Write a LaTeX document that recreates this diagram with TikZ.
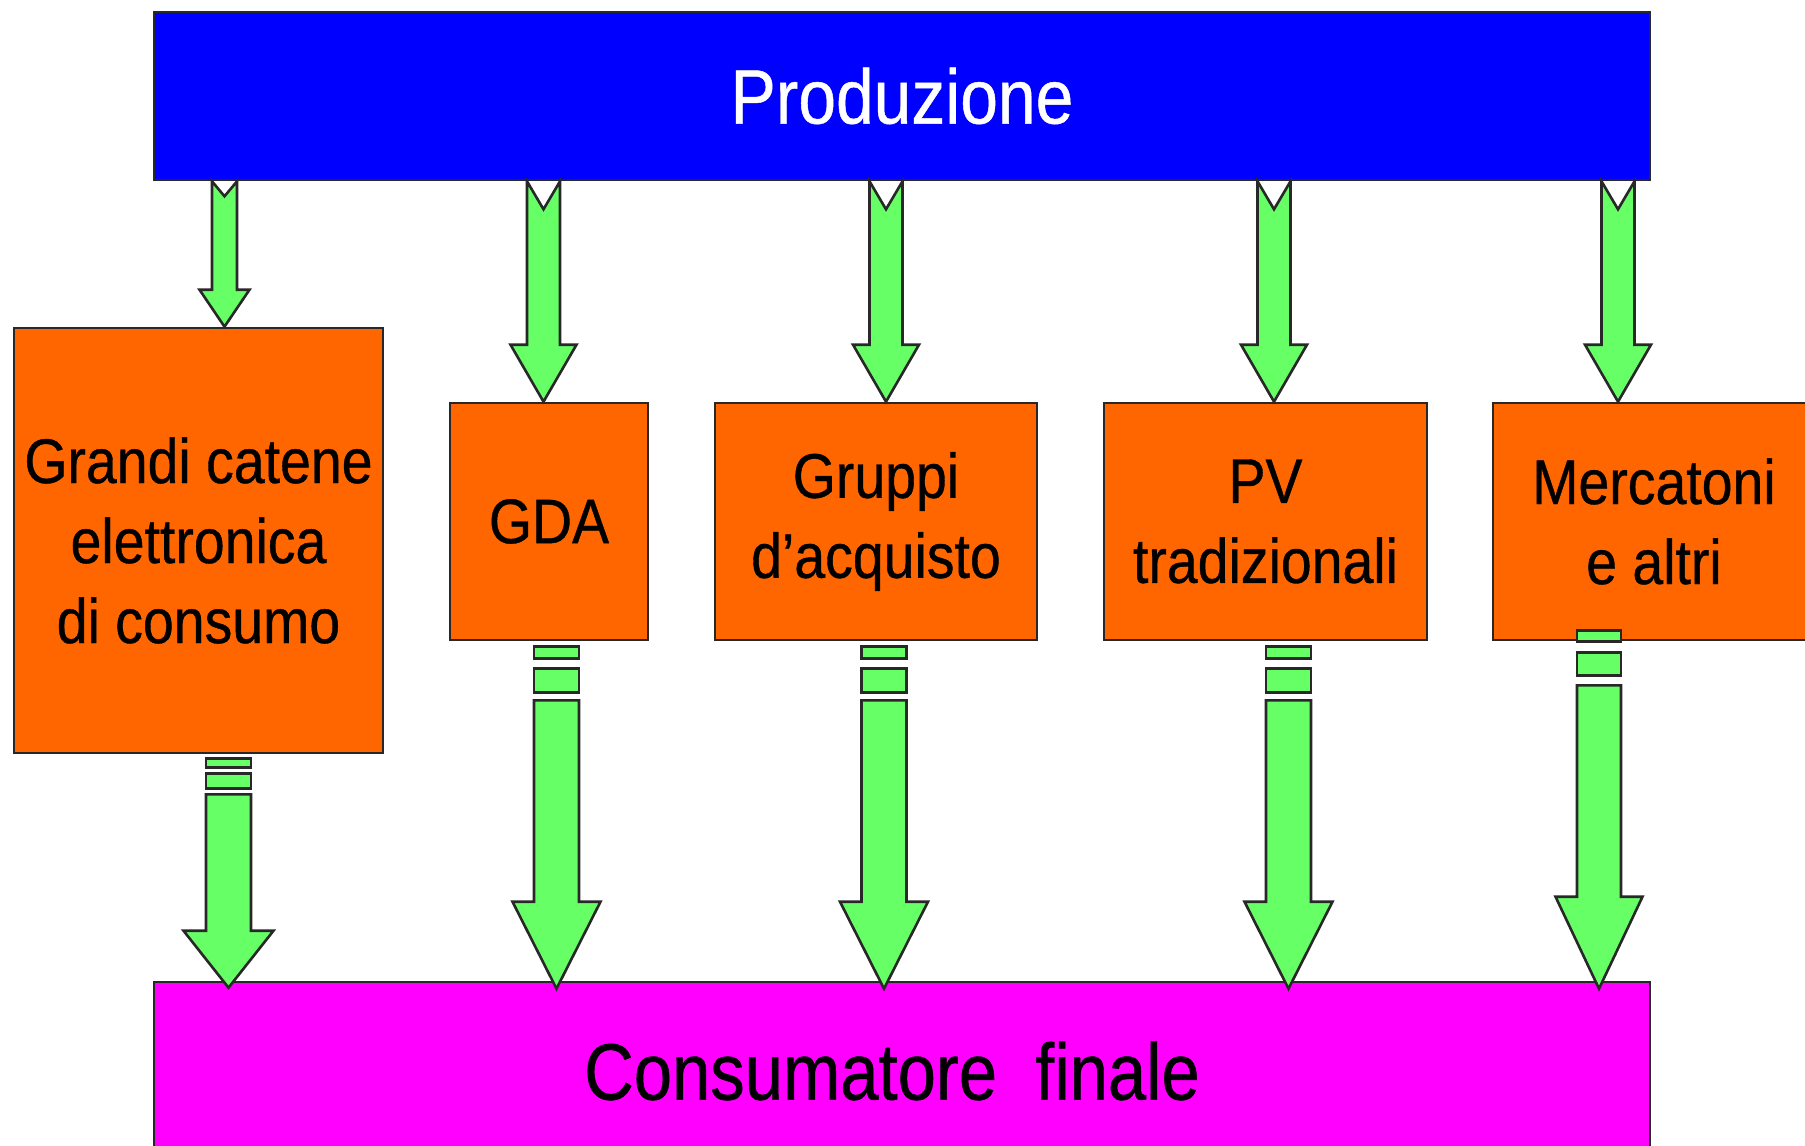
\documentclass[tikz,border=0pt]{standalone}
\usepackage{fontspec}
\setmainfont{Liberation Sans}[FakeStretch=0.88,FakeBold=0.6]
\newfontfamily\bandfont{Liberation Sans}[FakeStretch=0.86,FakeBold=0.6]
\usetikzlibrary{calc}

\definecolor{prodblue}{RGB}{0,0,255}
\definecolor{boxorange}{RGB}{255,102,0}
\definecolor{consmagenta}{RGB}{255,0,255}
\definecolor{arrowgreen}{RGB}{102,255,102}
\definecolor{edgegray}{RGB}{40,40,40}

\tikzset{
  panel/.style={draw=edgegray, line width=2.6pt, rectangle, inner sep=0pt, align=center},
  channel/.style={panel, fill=boxorange, text=black,
    font=\fontsize{63}{80}\selectfont, minimum height=237pt},
  greenarrow/.style={fill=arrowgreen, draw=edgegray, line width=2.6pt, line join=miter},
}

\begin{document}
\begin{tikzpicture}[x=1pt,y=-1pt]
  \useasboundingbox (0,0) rectangle (1805,1146);
  \clip (0,0) rectangle (1805,1146);
  \fill[white] (0,0) rectangle (1805,1146);

  % top and bottom bands
  \node[panel, fill=prodblue, text=white, font=\fontsize{77}{90}\selectfont,
        minimum width=1496pt, minimum height=168pt] (prod) at (902,96) {Produzione};
  \node[panel, fill=consmagenta, text=black, font=\bandfont\fontsize{80}{92}\selectfont,
        minimum width=1496pt, minimum height=178pt] (cons) at (902,1071)
        {\kern-20pt Consumatore\ \ finale};

  % distribution channels
  \node[channel, minimum width=369pt, minimum height=425pt] (b1) at (198.5,540.5)
       {Grandi catene\\elettronica\\di consumo};
  \node[channel, minimum width=198pt] (b2) at (549,521.5) {\raisebox{-2pt}{GDA}};
  \node[channel, minimum width=322pt] (b3) at (876,521.5) {Gruppi\\d’acquisto};
  \node[channel, minimum width=323pt] (b4) at (1265.5,521.5) {PV\\tradizionali};
  \node[channel, minimum width=322pt] (b5) at (1654,521.5) {Mercatoni\\e altri};

  % notched arrows from production to the channels
  \foreach \xc/\src/\dst/\sw/\hw/\hl/\nd in {
      224.5/prod/b1/12.5pt/25pt/37pt/15pt,
      543.5/prod/b2/16.5pt/33pt/57pt/28pt,
      886/prod/b3/16.5pt/33pt/57pt/28pt,
      1274/prod/b4/16.5pt/33pt/57pt/28pt,
      1618/prod/b5/16.5pt/33pt/57pt/28pt}
  {
    \draw[greenarrow] let \p1=(\xc,0), \p2=(\src.south), \p3=(\dst.north) in
      (\x1-\sw,\y2) -- (\x1,\y2-\nd) -- (\x1+\sw,\y2) -- (\x1+\sw,\y3+\hl)
      -- (\x1+\hw,\y3+\hl) -- (\x1,\y3) -- (\x1-\hw,\y3+\hl) -- (\x1-\sw,\y3+\hl) -- cycle;
  }

  % striped arrows from the channels to the final consumer
  \foreach \xc/\src/\dst/\tl/\tp/\sw/\hw/\hl/\sa/\sb/\sc/\sd in {
      228.5/b1/cons/4pt/7pt/22.5pt/45pt/57pt/9pt/15pt/30pt/36pt,
      556.5/b2/cons/5pt/8pt/22.5pt/44pt/87pt/12pt/22pt/46pt/54pt,
      884/b3/cons/5pt/8pt/22.5pt/44pt/87pt/12pt/22pt/46pt/54pt,
      1288.5/b4/cons/5pt/8pt/22.5pt/44pt/87pt/12pt/22pt/46pt/54pt,
      1599/b5/cons/-11pt/8pt/22pt/43.5pt/92pt/11pt/22pt/45pt/55pt}
  {
    \draw[greenarrow] let \p1=(\xc,0), \p2=(\src.south), \p3=(\dst.north),
                          \n1={\y2-(\tl)} in
      ({\x1-\sw},{\n1}) rectangle ({\x1+\sw},{\n1-\sa})
      ({\x1-\sw},{\n1-\sb}) rectangle ({\x1+\sw},{\n1-\sc});
    \draw[greenarrow] let \p1=(\xc,0), \p2=(\src.south), \p3=(\dst.north),
                          \n1={\y2-(\tl)}, \n2={\y3-\tp} in
      ({\x1-\sw},{\n1-\sd}) -- ({\x1+\sw},{\n1-\sd}) -- ({\x1+\sw},{\n2+\hl})
      -- ({\x1+\hw},{\n2+\hl}) -- ({\x1},{\n2}) -- ({\x1-\hw},{\n2+\hl})
      -- ({\x1-\sw},{\n2+\hl}) -- cycle;
  }
\end{tikzpicture}
\end{document}
